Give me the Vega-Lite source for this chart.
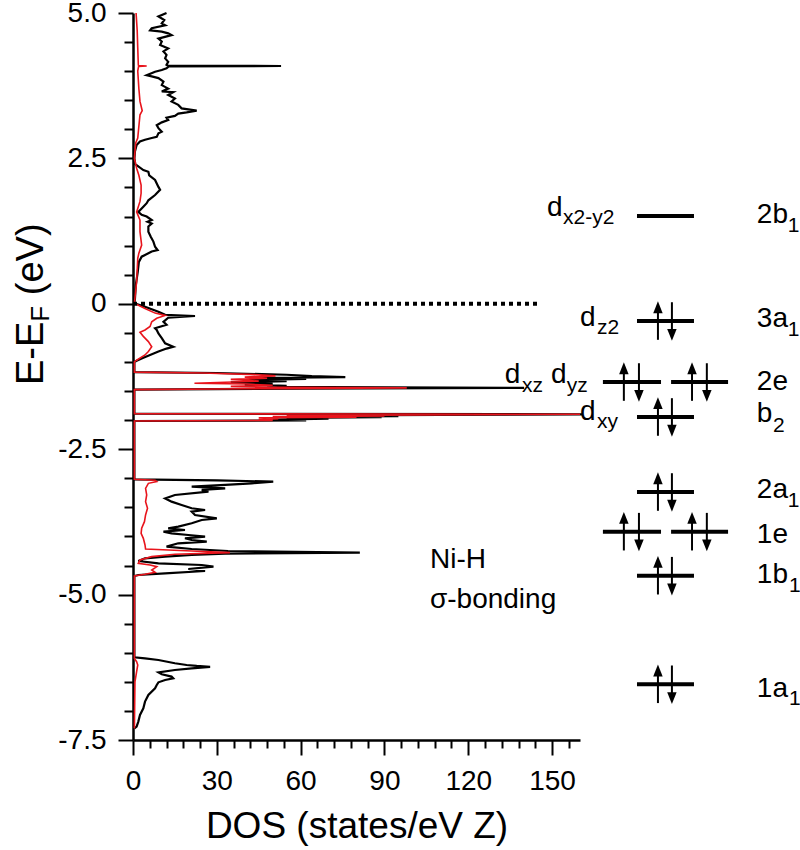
{
  "$schema": "https://vega.github.io/schema/vega-lite/v6.json",
  "width": 447,
  "height": 727,
  "autosize": {"type": "none"},
  "padding": {"left": 133, "top": 13, "right": 220, "bottom": 110},
  "background": "white",
  "config": {
    "font": "Liberation Sans",
    "view": {"stroke": null},
    "axis": {"grid": false, "domainColor": "black", "tickColor": "black", "labelColor": "black", "titleColor": "black", "labelFont": "Liberation Sans", "titleFont": "Liberation Sans", "labelFontSize": 28, "titleFontWeight": "normal", "domainWidth": 2.5, "tickWidth": 2}
  },
  "datasets": {
    "total": [
      {"E":5.0,"D":12.0},{"E":4.94,"D":9.1},{"E":4.88,"D":11.2},{"E":4.82,"D":10.3},{"E":4.79,"D":11.5},{"E":4.74,"D":6.7},{"E":4.70,"D":6.1},{"E":4.68,"D":10.3},{"E":4.65,"D":12.6},{"E":4.62,"D":13.8},{"E":4.56,"D":9.1},{"E":4.51,"D":10.3},{"E":4.45,"D":9.7},{"E":4.39,"D":12.6},{"E":4.34,"D":10.9},{"E":4.28,"D":12.0},{"E":4.22,"D":11.5},{"E":4.16,"D":12.6},{"E":4.11,"D":12.0},{"E":4.095,"D":12.5},{"E":4.089,"D":53.0},{"E":4.083,"D":12.8},{"E":4.05,"D":12.0},{"E":4.02,"D":10.3},{"E":3.99,"D":7.9},{"E":3.93,"D":4.9},{"E":3.91,"D":6.7},{"E":3.88,"D":9.1},{"E":3.82,"D":10.9},{"E":3.76,"D":10.3},{"E":3.70,"D":12.6},{"E":3.65,"D":10.3},{"E":3.64,"D":14.4},{"E":3.59,"D":12.6},{"E":3.53,"D":15.0},{"E":3.48,"D":13.8},{"E":3.42,"D":16.2},{"E":3.36,"D":17.4},{"E":3.32,"D":22.8},{"E":3.29,"D":19.2},{"E":3.27,"D":16.2},{"E":3.23,"D":15.0},{"E":3.20,"D":12.0},{"E":3.16,"D":12.6},{"E":3.12,"D":10.3},{"E":3.07,"D":8.5},{"E":3.02,"D":9.1},{"E":2.96,"D":10.3},{"E":2.93,"D":9.1},{"E":2.87,"D":8.5},{"E":2.85,"D":6.7},{"E":2.82,"D":4.3},{"E":2.79,"D":2.5},{"E":2.73,"D":1.3},{"E":2.62,"D":0.7},
      {"E":2.50,"D":0.5},{"E":2.40,"D":0.8},{"E":2.30,"D":3.7},{"E":2.27,"D":5.5},{"E":2.21,"D":5.8},{"E":2.13,"D":7.9},{"E":2.01,"D":9.1},{"E":1.96,"D":9.7},{"E":1.87,"D":7.9},{"E":1.78,"D":5.5},{"E":1.73,"D":4.9},{"E":1.67,"D":3.7},{"E":1.58,"D":1.9},{"E":1.53,"D":3.1},{"E":1.50,"D":4.9},{"E":1.44,"D":6.7},{"E":1.41,"D":5.2},{"E":1.38,"D":6.7},{"E":1.33,"D":5.5},{"E":1.24,"D":5.5},{"E":1.15,"D":6.4},{"E":1.07,"D":7.3},{"E":0.98,"D":7.9},{"E":0.925,"D":8.8},{"E":0.90,"D":6.7},{"E":0.84,"D":4.3},{"E":0.81,"D":3.1},{"E":0.72,"D":2.1},{"E":0.55,"D":1.7},{"E":0.32,"D":1.0},{"E":0.09,"D":0.7},{"E":0.01,"D":0.5},
      {"E":-0.05,"D":4.3},{"E":-0.135,"D":9.1},{"E":-0.19,"D":11.5},{"E":-0.21,"D":22.2},{"E":-0.24,"D":12.6},{"E":-0.31,"D":10.9},{"E":-0.36,"D":12.0},{"E":-0.42,"D":7.9},{"E":-0.45,"D":8.5},{"E":-0.51,"D":9.1},{"E":-0.59,"D":10.3},{"E":-0.68,"D":11.5},{"E":-0.74,"D":14.4},{"E":-0.77,"D":12.0},{"E":-0.82,"D":9.1},{"E":-0.88,"D":6.1},{"E":-0.94,"D":3.1},{"E":-0.98,"D":1.3},{"E":-1.0,"D":0.5},
      {"E":-1.175,"D":0.5},{"E":-1.19,"D":30},{"E":-1.22,"D":55},{"E":-1.245,"D":64},{"E":-1.26,"D":76},{"E":-1.275,"D":45},{"E":-1.29,"D":62},{"E":-1.31,"D":40},{"E":-1.33,"D":55},{"E":-1.35,"D":35},{"E":-1.37,"D":50},{"E":-1.39,"D":40},{"E":-1.41,"D":55},{"E":-1.43,"D":48},{"E":-1.445,"D":140},{"E":-1.46,"D":60},{"E":-1.475,"D":0.5},
      {"E":-1.89,"D":0.5},{"E":-1.90,"D":161},{"E":-1.91,"D":110},{"E":-1.92,"D":70},{"E":-1.93,"D":95},{"E":-1.94,"D":60},{"E":-1.95,"D":89},{"E":-1.96,"D":55},{"E":-1.975,"D":70},{"E":-1.99,"D":50},{"E":-2.005,"D":62},{"E":-2.015,"D":0.5},
      {"E":-3.018,"D":0.5},{"E":-3.035,"D":30},{"E":-3.058,"D":50.2},{"E":-3.087,"D":42.5},{"E":-3.115,"D":33},{"E":-3.144,"D":21},{"E":-3.173,"D":33},{"E":-3.20,"D":24.6},{"E":-3.23,"D":27},{"E":-3.287,"D":15},{"E":-3.345,"D":11.5},{"E":-3.402,"D":13.8},{"E":-3.459,"D":17.4},{"E":-3.516,"D":21},{"E":-3.545,"D":25.8},{"E":-3.574,"D":21},{"E":-3.631,"D":22.2},{"E":-3.688,"D":30},{"E":-3.717,"D":24.6},{"E":-3.774,"D":21},{"E":-3.832,"D":16.2},{"E":-3.86,"D":12.6},{"E":-3.889,"D":18.6},{"E":-3.918,"D":10.9},{"E":-3.946,"D":13.8},{"E":-3.975,"D":19.8},{"E":-4.004,"D":25.8},{"E":-4.032,"D":18.6},{"E":-4.061,"D":21},{"E":-4.09,"D":26.4},{"E":-4.118,"D":16.2},{"E":-4.176,"D":12.0},{"E":-4.216,"D":21},{"E":-4.25,"D":34},{"E":-4.279,"D":81.2},{"E":-4.296,"D":33},{"E":-4.319,"D":21},{"E":-4.347,"D":11.5},{"E":-4.376,"D":4.3},{"E":-4.422,"D":1.9},{"E":-4.462,"D":9.1},{"E":-4.491,"D":24.6},{"E":-4.52,"D":28.8},{"E":-4.56,"D":19.8},{"E":-4.594,"D":25.8},{"E":-4.634,"D":11.5},{"E":-4.663,"D":1.9},{"E":-4.68,"D":0.5},
      {"E":-6.078,"D":0.5},{"E":-6.095,"D":4.3},{"E":-6.124,"D":9.1},{"E":-6.181,"D":15},{"E":-6.21,"D":19.2},{"E":-6.227,"D":22.8},{"E":-6.244,"D":27.6},{"E":-6.267,"D":21},{"E":-6.296,"D":15},{"E":-6.336,"D":9.1},{"E":-6.37,"D":10.3},{"E":-6.41,"D":13.8},{"E":-6.439,"D":14.4},{"E":-6.468,"D":11.5},{"E":-6.508,"D":9.1},{"E":-6.554,"D":8.5},{"E":-6.611,"D":7.9},{"E":-6.726,"D":5.5},{"E":-6.84,"D":4.3},{"E":-6.955,"D":3.7},{"E":-7.07,"D":2.5},{"E":-7.184,"D":1.9},{"E":-7.27,"D":1.3},{"E":-7.30,"D":0.5}
    ],
    "partial": [
      {"E":5.0,"D":1.1},{"E":4.7,"D":1.5},{"E":4.4,"D":1.7},{"E":4.11,"D":1.9},{"E":4.095,"D":2.0},{"E":4.089,"D":4.9},{"E":4.083,"D":2.0},{"E":4.0,"D":1.7},{"E":3.70,"D":2.1},{"E":3.48,"D":2.5},{"E":3.32,"D":3.3},{"E":3.25,"D":2.5},{"E":2.85,"D":1.7},{"E":2.77,"D":1.0},{"E":2.62,"D":0.7},
      {"E":2.50,"D":0.5},{"E":2.33,"D":1.3},{"E":2.21,"D":2.1},{"E":2.04,"D":2.9},{"E":1.90,"D":2.9},{"E":1.76,"D":2.5},{"E":1.58,"D":1.3},{"E":1.44,"D":2.5},{"E":1.24,"D":2.5},{"E":1.01,"D":3.1},{"E":0.87,"D":2.1},{"E":0.78,"D":1.7},{"E":0.38,"D":1.3},{"E":0.01,"D":0.5},
      {"E":-0.08,"D":4.3},{"E":-0.16,"D":7.9},{"E":-0.20,"D":11.5},{"E":-0.25,"D":8.5},{"E":-0.31,"D":6.7},{"E":-0.39,"D":6.1},{"E":-0.45,"D":4.3},{"E":-0.49,"D":2.5},{"E":-0.56,"D":3.7},{"E":-0.65,"D":5.5},{"E":-0.74,"D":6.7},{"E":-0.82,"D":5.5},{"E":-0.88,"D":4.3},{"E":-0.97,"D":1.3},{"E":-1.0,"D":0.5},
      {"E":-1.175,"D":0.5},{"E":-1.19,"D":25},{"E":-1.22,"D":45},{"E":-1.24,"D":51},{"E":-1.26,"D":40},{"E":-1.28,"D":48},{"E":-1.30,"D":35},{"E":-1.33,"D":45},{"E":-1.365,"D":22},{"E":-1.38,"D":40},{"E":-1.40,"D":50},{"E":-1.42,"D":35},{"E":-1.435,"D":50},{"E":-1.445,"D":98},{"E":-1.46,"D":40},{"E":-1.475,"D":0.5},
      {"E":-1.89,"D":0.5},{"E":-1.90,"D":160},{"E":-1.91,"D":100},{"E":-1.92,"D":55},{"E":-1.93,"D":90},{"E":-1.94,"D":50},{"E":-1.95,"D":80},{"E":-1.96,"D":45},{"E":-1.975,"D":52},{"E":-1.99,"D":45},{"E":-2.005,"D":50},{"E":-2.015,"D":0.5},
      {"E":-3.018,"D":0.5},{"E":-3.035,"D":7.9},{"E":-3.058,"D":8.5},{"E":-3.087,"D":5.5},{"E":-3.173,"D":4.5},{"E":-3.287,"D":4.9},{"E":-3.402,"D":4.5},{"E":-3.516,"D":5.2},{"E":-3.631,"D":4.5},{"E":-3.746,"D":4.1},{"E":-3.86,"D":3.1},{"E":-3.946,"D":2.9},{"E":-4.032,"D":3.7},{"E":-4.147,"D":4.3},{"E":-4.216,"D":4.5},{"E":-4.25,"D":21},{"E":-4.279,"D":34.7},{"E":-4.307,"D":15},{"E":-4.347,"D":6.7},{"E":-4.405,"D":2.5},{"E":-4.462,"D":1.9},{"E":-4.491,"D":6.1},{"E":-4.52,"D":8.5},{"E":-4.577,"D":6.7},{"E":-4.617,"D":7.9},{"E":-4.651,"D":4.3},{"E":-4.68,"D":0.5},
      {"E":-6.10,"D":0.5},{"E":-6.153,"D":1.3},{"E":-6.21,"D":1.7},{"E":-6.324,"D":1.3},{"E":-6.5,"D":0.7},{"E":-7.30,"D":0.5}
    ],
    "fermi": [{"E":0,"D":0,"D2":146}],
    "levels": [
      {"E":1.51,"D":180.4,"D2":200.8},{"E":-0.296,"D":180.4,"D2":200.8},{"E":-1.345,"D":168.2,"D2":189.0},{"E":-1.345,"D":192.6,"D2":213.0},{"E":-1.946,"D":180.4,"D2":200.8},{"E":-3.236,"D":180.4,"D2":200.8},{"E":-3.918,"D":168.2,"D2":189.0},{"E":-3.918,"D":192.6,"D2":213.0},{"E":-4.675,"D":180.4,"D2":200.8},{"E":-6.542,"D":180.4,"D2":200.8}
    ],
    "arrows": [
      {"D":187.9,"E":-0.619,"E2":-0.096},{"D":192.9,"E":0.027,"E2":-0.496},
      {"D":175.7,"E":-1.668,"E2":-1.145},{"D":181.1,"E":-1.022,"E2":-1.545},{"D":200.1,"E":-1.668,"E2":-1.145},{"D":205.4,"E":-1.022,"E2":-1.545},
      {"D":187.9,"E":-2.269,"E2":-1.746},{"D":192.9,"E":-1.623,"E2":-2.146},
      {"D":187.9,"E":-3.559,"E2":-3.036},{"D":192.9,"E":-2.913,"E2":-3.436},
      {"D":175.7,"E":-4.241,"E2":-3.718},{"D":181.1,"E":-3.595,"E2":-4.118},{"D":200.1,"E":-4.241,"E2":-3.718},{"D":205.4,"E":-3.595,"E2":-4.118},
      {"D":187.9,"E":-4.998,"E2":-4.475},{"D":192.9,"E":-4.352,"E2":-4.875},
      {"D":187.9,"E":-6.865,"E2":-6.342},{"D":192.9,"E":-6.219,"E2":-6.742}
    ],
    "headsUp": [
      {"D":187.9,"E":-0.059},{"D":175.7,"E":-1.108},{"D":200.1,"E":-1.108},{"D":187.9,"E":-1.709},{"D":187.9,"E":-2.999},{"D":175.7,"E":-3.681},{"D":200.1,"E":-3.681},{"D":187.9,"E":-4.438},{"D":187.9,"E":-6.305}
    ],
    "headsDown": [
      {"D":192.9,"E":-0.533},{"D":181.1,"E":-1.582},{"D":205.4,"E":-1.582},{"D":192.9,"E":-2.183},{"D":192.9,"E":-3.473},{"D":181.1,"E":-4.155},{"D":205.4,"E":-4.155},{"D":192.9,"E":-4.912},{"D":192.9,"E":-6.779}
    ],
    "labels": [
      {"D":148.2,"E":1.51,"t":"d"},{"D":223.3,"E":1.385,"t":"2b"},
      {"D":160.0,"E":-0.376,"t":"d"},{"D":223.3,"E":-0.394,"t":"3a"},
      {"D":133.1,"E":-1.367,"t":"d"},{"D":149.6,"E":-1.367,"t":"d"},{"D":223.3,"E":-1.482,"t":"2e"},
      {"D":160.0,"E":-1.998,"t":"d"},{"D":223.3,"E":-2.032,"t":"b"},
      {"D":223.3,"E":-3.345,"t":"2a"},{"D":223.3,"E":-4.119,"t":"1e"},{"D":223.3,"E":-4.806,"t":"1b"},{"D":223.3,"E":-6.755,"t":"1a"},
      {"D":106.3,"E":-4.543,"t":"Ni-H"},{"D":106.3,"E":-5.23,"t":"σ-bonding"}
    ],
    "subs": [
      {"D":153.9,"E":1.372,"t":"x2-y2"},{"D":234.4,"E":1.235,"t":"1"},
      {"D":166.1,"E":-0.519,"t":"z2"},{"D":234.4,"E":-0.553,"t":"1"},
      {"D":139.2,"E":-1.511,"t":"xz"},{"D":155.3,"E":-1.511,"t":"yz"},
      {"D":166.1,"E":-2.141,"t":"xy"},{"D":229.1,"E":-2.199,"t":"2"},
      {"D":234.4,"E":-3.489,"t":"1"},{"D":234.8,"E":-4.955,"t":"1"},{"D":234.8,"E":-6.898,"t":"1"}
    ],
    "ytitle": [
      {"D":-32.2,"E":-1.396,"t":"E-E"},{"D":-32.2,"E":0.148,"t":"(eV)"}
    ],
    "ytitleSub": [
      {"D":-30.1,"E":-0.308,"t":"F"}
    ]
  },
  "layer": [
    {
      "data": {"name": "total"},
      "mark": {"type": "line", "color": "black", "strokeWidth": 2.2},
      "encoding": {
        "x": {"field": "D", "type": "quantitative", "scale": {"domain": [0, 160], "nice": false, "zero": false}, "title": "DOS (states/eV Z)",
          "axis": {"values": [0,6,12,18,24,30,36,42,48,54,60,66,72,78,84,90,96,102,108,114,120,126,132,138,144,150,156],
            "tickCount": 200,
            "labelExpr": "datum.value % 30 === 0 ? datum.label : ''", "labelFlush": false, "labelOverlap": false,
            "tickSize": {"condition": {"test": "datum.value % 30 === 0", "value": 15}, "value": 8},
            "labelPadding": 12, "titleFontSize": 37, "titlePadding": 13}},
        "y": {"field": "E", "type": "quantitative", "scale": {"domain": [-7.5, 5], "nice": false, "zero": false}, "title": null,
          "axis": {"values": [-7.5,-7,-6.5,-6,-5.5,-5,-4.5,-4,-3.5,-3,-2.5,-2,-1.5,-1,-0.5,0,0.5,1,1.5,2,2.5,3,3.5,4,4.5,5],
            "tickCount": 200,
            "labelExpr": "datum.value % 2.5 === 0 ? (datum.value === 0 ? '0' : replace(format(datum.value, '.1f'), '\u2212', '-')) : ''", "labelFlush": false, "labelOverlap": false,
            "tickSize": {"condition": {"test": "datum.value % 2.5 === 0", "value": 15}, "value": 9},
            "labelPadding": 12}},
        "order": {"field": "E", "type": "quantitative"}
      }
    },
    {
      "data": {"name": "partial"},
      "mark": {"type": "line", "color": "#e8141c", "strokeWidth": 1.6},
      "encoding": {
        "x": {"field": "D", "type": "quantitative", "scale": {"domain": [0, 160], "nice": false, "zero": false}, "title": "DOS (states/eV Z)"},
        "y": {"field": "E", "type": "quantitative", "scale": {"domain": [-7.5, 5], "nice": false, "zero": false}, "title": null},
        "order": {"field": "E", "type": "quantitative"}
      }
    },
    {
      "data": {"name": "fermi"},
      "mark": {"type": "rule", "color": "black", "strokeWidth": 4, "strokeDash": [4, 4]},
      "encoding": {
        "x": {"field": "D", "type": "quantitative", "scale": {"domain": [0, 160], "nice": false, "zero": false}, "title": "DOS (states/eV Z)"},
        "x2": {"field": "D2"},
        "y": {"field": "E", "type": "quantitative", "scale": {"domain": [-7.5, 5], "nice": false, "zero": false}, "title": null}
      }
    },
    {
      "data": {"name": "levels"},
      "mark": {"type": "rule", "color": "black", "strokeWidth": 4},
      "encoding": {
        "x": {"field": "D", "type": "quantitative", "scale": {"domain": [0, 160], "nice": false, "zero": false}, "title": "DOS (states/eV Z)"},
        "x2": {"field": "D2"},
        "y": {"field": "E", "type": "quantitative", "scale": {"domain": [-7.5, 5], "nice": false, "zero": false}, "title": null}
      }
    },
    {
      "data": {"name": "arrows"},
      "mark": {"type": "rule", "color": "black", "strokeWidth": 2},
      "encoding": {
        "x": {"field": "D", "type": "quantitative", "scale": {"domain": [0, 160], "nice": false, "zero": false}, "title": "DOS (states/eV Z)"},
        "y": {"field": "E", "type": "quantitative", "scale": {"domain": [-7.5, 5], "nice": false, "zero": false}, "title": null},
        "y2": {"field": "E2"}
      }
    },
    {
      "data": {"name": "headsUp"},
      "mark": {"type": "point", "shape": "M0,-1L-0.8,1L0.8,1Z", "filled": true, "size": 140, "color": "black", "opacity": 1, "strokeWidth": 0},
      "encoding": {
        "x": {"field": "D", "type": "quantitative", "scale": {"domain": [0, 160], "nice": false, "zero": false}, "title": "DOS (states/eV Z)"},
        "y": {"field": "E", "type": "quantitative", "scale": {"domain": [-7.5, 5], "nice": false, "zero": false}, "title": null}
      }
    },
    {
      "data": {"name": "headsDown"},
      "mark": {"type": "point", "shape": "M0,1L-0.8,-1L0.8,-1Z", "filled": true, "size": 140, "color": "black", "opacity": 1, "strokeWidth": 0},
      "encoding": {
        "x": {"field": "D", "type": "quantitative", "scale": {"domain": [0, 160], "nice": false, "zero": false}, "title": "DOS (states/eV Z)"},
        "y": {"field": "E", "type": "quantitative", "scale": {"domain": [-7.5, 5], "nice": false, "zero": false}, "title": null}
      }
    },
    {
      "data": {"name": "labels"},
      "mark": {"type": "text", "fontSize": 28, "align": "left", "baseline": "alphabetic", "color": "black", "font": "Liberation Sans"},
      "encoding": {
        "x": {"field": "D", "type": "quantitative", "scale": {"domain": [0, 160], "nice": false, "zero": false}, "title": "DOS (states/eV Z)"},
        "y": {"field": "E", "type": "quantitative", "scale": {"domain": [-7.5, 5], "nice": false, "zero": false}, "title": null},
        "text": {"field": "t"}
      }
    },
    {
      "data": {"name": "subs"},
      "mark": {"type": "text", "fontSize": 21, "align": "left", "baseline": "alphabetic", "color": "black", "font": "Liberation Sans"},
      "encoding": {
        "x": {"field": "D", "type": "quantitative", "scale": {"domain": [0, 160], "nice": false, "zero": false}, "title": "DOS (states/eV Z)"},
        "y": {"field": "E", "type": "quantitative", "scale": {"domain": [-7.5, 5], "nice": false, "zero": false}, "title": null},
        "text": {"field": "t"}
      }
    },
    {
      "data": {"name": "ytitle"},
      "mark": {"type": "text", "fontSize": 38, "align": "left", "baseline": "alphabetic", "angle": 270, "color": "black", "font": "Liberation Sans"},
      "encoding": {
        "x": {"field": "D", "type": "quantitative", "scale": {"domain": [0, 160], "nice": false, "zero": false}, "title": "DOS (states/eV Z)"},
        "y": {"field": "E", "type": "quantitative", "scale": {"domain": [-7.5, 5], "nice": false, "zero": false}, "title": null},
        "text": {"field": "t"}
      }
    },
    {
      "data": {"name": "ytitleSub"},
      "mark": {"type": "text", "fontSize": 26, "align": "left", "baseline": "alphabetic", "angle": 270, "color": "black", "font": "Liberation Sans"},
      "encoding": {
        "x": {"field": "D", "type": "quantitative", "scale": {"domain": [0, 160], "nice": false, "zero": false}, "title": "DOS (states/eV Z)"},
        "y": {"field": "E", "type": "quantitative", "scale": {"domain": [-7.5, 5], "nice": false, "zero": false}, "title": null},
        "text": {"field": "t"}
      }
    }
  ]
}
